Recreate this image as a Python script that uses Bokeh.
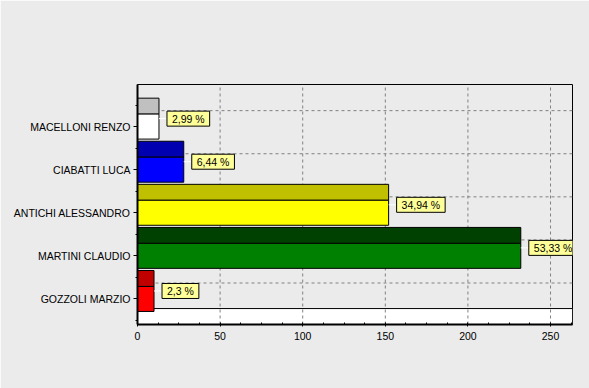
from bokeh.plotting import figure
from bokeh.models import Range1d, FixedTicker, SingleIntervalTicker, Label
from bokeh.embed import file_html
from bokeh.resources import INLINE

# ---- data ----
candidates = ["GOZZOLI MARZIO", "MARTINI CLAUDIO", "ANTICHI ALESSANDRO", "CIABATTI LUCA", "MACELLONI RENZO"]
votes = [10, 232, 152, 28, 13]
front_colors = ["#ff0000", "#008000", "#ffff00", "#0000ff", "#ffffff"]
top_colors = ["#c00000", "#004000", "#c0c000", "#0000b0", "#c0c0c0"]
x_ticks = [0, 50, 100, 150, 200, 250]

total = sum(votes)
pct_labels = [f"{round(v * 100 / total, 2):g}".replace(".", ",") + " %" for v in votes]

BG = "#ebebeb"
FONT = "Liberation Sans"
FS = "10.5px"

pos = list(range(len(candidates)))
half = 0.29      # half height of the front face (category units)
depth = 0.37     # 3D depth (category units)
x_max = 263.3
y_lo, y_hi = -0.593, 4.977

p = figure(width=589, height=388, output_backend="svg", toolbar_location=None,
           x_range=Range1d(0, x_max), y_range=Range1d(y_lo, y_hi),
           min_border_left=137, min_border_right=17, min_border_top=84, min_border_bottom=64,
           background_fill_color=BG, border_fill_color=BG, margin=(0, 0, 0, 0))
p.xgrid.visible = False
p.ygrid.visible = False
p.outline_line_color = "black"
p.outline_line_width = 1

# floor
p.quad(left=[0], right=[x_max], bottom=[y_lo], top=[y_lo + depth],
       fill_color="white", line_color="black", line_width=1)

# grid lines on back wall / floor
gx = x_ticks[1:]
p.segment(x0=gx, x1=gx, y0=[y_lo] * len(gx), y1=[y_hi] * len(gx),
          line_color="#808080", line_dash="3 3", line_width=1)
gy = [i + depth for i in pos]
p.segment(x0=[0] * len(gy), x1=[x_max] * len(gy), y0=gy, y1=gy,
          line_color="#808080", line_dash="3 3", line_width=1)

# bars: top face and front face
p.quad(left=[0] * len(votes), right=votes,
       bottom=[i + half for i in pos], top=[i + half + depth for i in pos],
       fill_color=top_colors, line_color="black", line_width=1)
p.quad(left=[0] * len(votes), right=votes,
       bottom=[i - half for i in pos], top=[i + half for i in pos],
       fill_color=front_colors, line_color="black", line_width=1)

# connectors and value marks
ly = [i + depth / 2 for i in pos]
gap = 4.8
p.segment(x0=votes, x1=[v + gap for v in votes], y0=ly, y1=ly, line_color="white", line_width=1)
for v, y, t in zip(votes, ly, pct_labels):
    p.add_layout(Label(x=v, y=y, x_offset=8, text=t, text_baseline="middle", text_align="left",
                       text_font=FONT, text_font_size=FS, text_color="black",
                       background_fill_color="#ffff99", border_line_color="black",
                       border_line_width=1, padding=dict(left=5, right=5, top=2, bottom=1)))

# axes
xa = p.xaxis[0]
xa.ticker = SingleIntervalTicker(interval=50, num_minor_ticks=4)
xa.axis_line_width = 2
xa.axis_line_color = "black"
xa.major_tick_in = 0
xa.major_tick_out = 2
xa.minor_tick_in = 2
xa.minor_tick_out = 0
xa.major_label_standoff = 5
xa.major_label_text_font = FONT
xa.major_label_text_font_size = FS
xa.major_label_text_color = "black"

ya = p.yaxis[0]
ya.ticker = FixedTicker(ticks=pos, minor_ticks=[i - 0.5 for i in pos] + [pos[-1] + 0.5])
ya.major_label_overrides = {i: c for i, c in zip(pos, candidates)}
ya.axis_line_width = 2
ya.axis_line_color = "black"
ya.major_tick_in = 0
ya.major_tick_out = 4
ya.minor_tick_in = 0
ya.minor_tick_out = 2
ya.major_label_standoff = 3
ya.major_label_text_font = FONT
ya.major_label_text_font_size = FS
ya.major_label_text_color = "black"

open("out.html", "w").write(file_html(p, INLINE))
